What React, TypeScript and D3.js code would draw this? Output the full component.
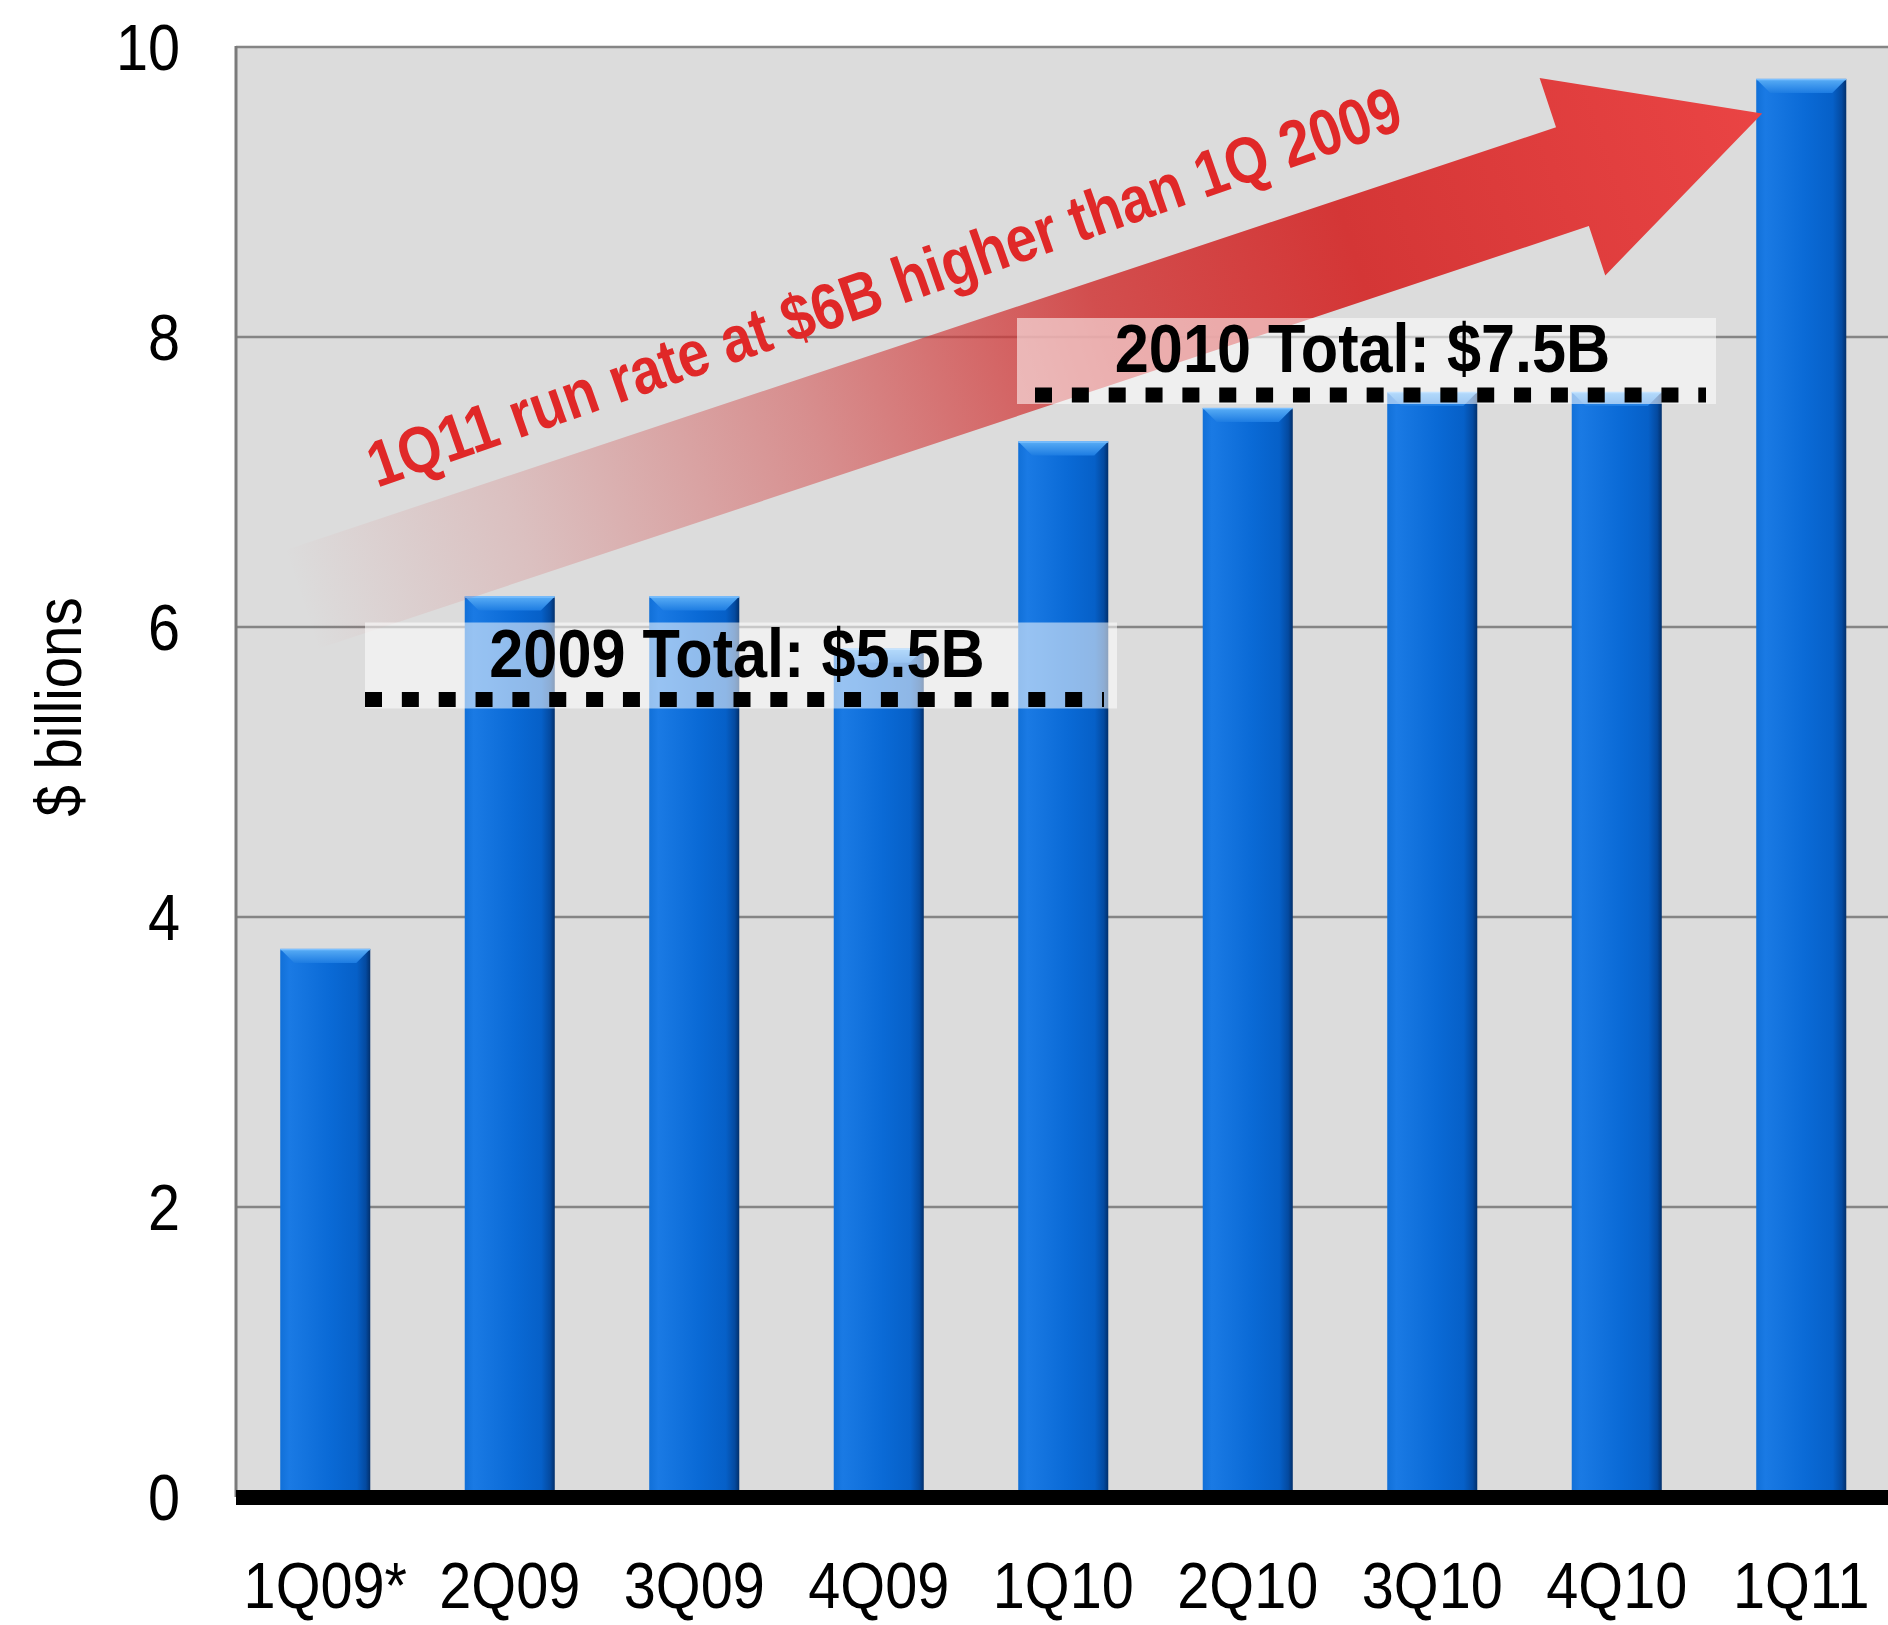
import React from 'react';
import * as d3 from 'd3';

// ---- data ----
const categories = ['1Q09*', '2Q09', '3Q09', '4Q09', '1Q10', '2Q10', '3Q10', '4Q10', '1Q11'];
const values = [3.78, 6.21, 6.21, 5.85, 7.28, 7.51, 7.62, 7.62, 9.78];
const yTicks = [0, 2, 4, 6, 8, 10];
const yTitle = '$ billions';
const totalLabels = ['2009 Total: $5.5B', '2010 Total: $7.5B'];
const totalLevels = [5.5, 7.6];
const arrowLabel = '1Q11 run rate at $6B higher than 1Q 2009';

// ---- layout ----
const W = 1888;
const H = 1625;
const PL = 236, PR = 1888, PT = 47, PB = 1497;
const FONT = '"Liberation Sans", Arial, Helvetica, sans-serif';

// annotation boxes (pixel extents)
const boxX = [
  [365, 1117, 365, 1104],
  [1017, 1716, 1035, 1706],
];

export default function App() {
  const x = d3
    .scaleBand<string>()
    .domain(categories)
    .range([233, 1893.5])
    .paddingInner(0.512)
    .paddingOuter(0.256);
  const y = d3.scaleLinear().domain([0, 10]).range([PB, PT]);
  const bw = x.bandwidth();

  // arrow geometry in local frame
  const tail = [300, 600];
  const angle = -18.4;
  const L = 1541, headL = 200, sh = 52, hh = 104;
  const arrowPts = [
    [0, -sh], [L - headL, -sh], [L - headL, -hh], [L, 0], [L - headL, hh], [L - headL, sh], [0, sh],
  ];
  const arrowPath = d3.line()(arrowPts as [number, number][]) + 'Z';

  return (
    <svg
      width={W}
      height={H}
      style={{ position: 'absolute', left: 0, top: 0, background: '#fff' }}
      fontFamily={FONT}
    >
      <defs>
        <linearGradient id="barGrad" x1="0" x2="1" y1="0" y2="0">
          <stop offset="0" stopColor="#1170d8" />
          <stop offset="0.1" stopColor="#1a7ae4" />
          <stop offset="0.55" stopColor="#0a6ad6" />
          <stop offset="0.85" stopColor="#0660c8" />
          <stop offset="0.95" stopColor="#044aa0" />
          <stop offset="1" stopColor="#02306c" />
        </linearGradient>
        <linearGradient id="capGrad" x1="0" x2="0" y1="0" y2="1">
          <stop offset="0" stopColor="#5aaef6" />
          <stop offset="1" stopColor="#1d7ce2" />
        </linearGradient>
        <linearGradient id="arrowGrad" gradientUnits="userSpaceOnUse" x1="0" y1="0" x2={L} y2="0">
          <stop offset="0" stopColor="#d63a3a" stopOpacity="0" />
          <stop offset="0.15" stopColor="#d64040" stopOpacity="0.18" />
          <stop offset="0.35" stopColor="#d23a3a" stopOpacity="0.48" />
          <stop offset="0.55" stopColor="#d03535" stopOpacity="0.85" />
          <stop offset="0.72" stopColor="#d43636" stopOpacity="1" />
          <stop offset="1" stopColor="#ea4444" stopOpacity="1" />
        </linearGradient>
      </defs>

      {/* plot background */}
      <rect x={PL} y={PT} width={PR - PL} height={PB - PT} fill="#dcdcdc" />

      {/* gridlines */}
      {yTicks.filter((t) => t > 0).map((t) => (
        <line key={t} x1={PL} x2={PR} y1={y(t)} y2={y(t)} stroke="#858585" strokeWidth={2.5} />
      ))}
      <line x1={PL} x2={PL} y1={PT - 1} y2={PB} stroke="#7a7a7a" strokeWidth={3} />

      {/* bars */}
      {categories.map((c, i) => {
        const x0 = x(c)!;
        const y0 = y(values[i]);
        const bev = 14;
        return (
          <g key={c}>
            <rect x={x0} y={y0} width={bw} height={y(0) - y0} fill="url(#barGrad)" />
            <path
              d={`M${x0},${y0}L${x0 + bw},${y0}L${x0 + bw - bev},${y0 + bev}L${x0 + bev},${y0 + bev}Z`}
              fill="url(#capGrad)"
            />
            <line x1={x0} x2={x0 + bw} y1={y0 + 0.5} y2={y0 + 0.5} stroke="#7cc0ff" strokeWidth={1.5} />
          </g>
        );
      })}

      {/* arrow */}
      <g transform={`translate(${tail[0]},${tail[1]}) rotate(${angle})`}>
        <path d={arrowPath} fill="url(#arrowGrad)" />
      </g>
      <text
        transform={`translate(377,488) rotate(-19.3) scale(0.86,1)`}
        fontSize={65}
        fontWeight="bold"
        fill="#e02828"
      >
        {arrowLabel}
      </text>

      {/* total boxes */}
      {totalLabels.map((lab, i) => {
        const yl = y(totalLevels[i]);
        const [bx0, bx1, dx0, dx1] = boxX[i];
        return (
          <g key={lab}>
            <rect x={bx0} y={yl - 77} width={bx1 - bx0} height={86} fill="#ffffff" fillOpacity={0.55} />
            <text
              transform={`translate(${(bx0 + bx1) / 2 - 4},${yl - 23}) scale(0.9,1)`}
              textAnchor="middle"
              fontSize={68}
              fontWeight="bold"
              fill="#000"
            >
              {lab}
            </text>
            <line
              x1={dx0}
              x2={dx1}
              y1={yl}
              y2={yl}
              stroke="#000"
              strokeWidth={15}
              strokeDasharray="17 19.85"
            />
          </g>
        );
      })}

      {/* baseline */}
      <rect x={PL} y={y(0) - 7} width={PR - PL} height={15} fill="#000" />

      {/* y tick labels */}
      {yTicks.map((t) => (
        <text
          key={t}
          transform={`translate(180,${y(t) + 23}) scale(0.9,1)`}
          textAnchor="end"
          fontSize={64}
          fill="#000"
        >
          {t}
        </text>
      ))}

      {/* x labels */}
      {categories.map((c) => (
        <text
          key={c}
          transform={`translate(${x(c)! + bw / 2},1608) scale(0.9,1)`}
          textAnchor="middle"
          fontSize={64}
          fill="#000"
        >
          {c}
        </text>
      ))}

      {/* y title */}
      <text
        transform={`translate(81,707) rotate(-90) scale(0.88,1)`}
        textAnchor="middle"
        fontSize={64}
        fill="#000"
      >
        {yTitle}
      </text>
    </svg>
  );
}
